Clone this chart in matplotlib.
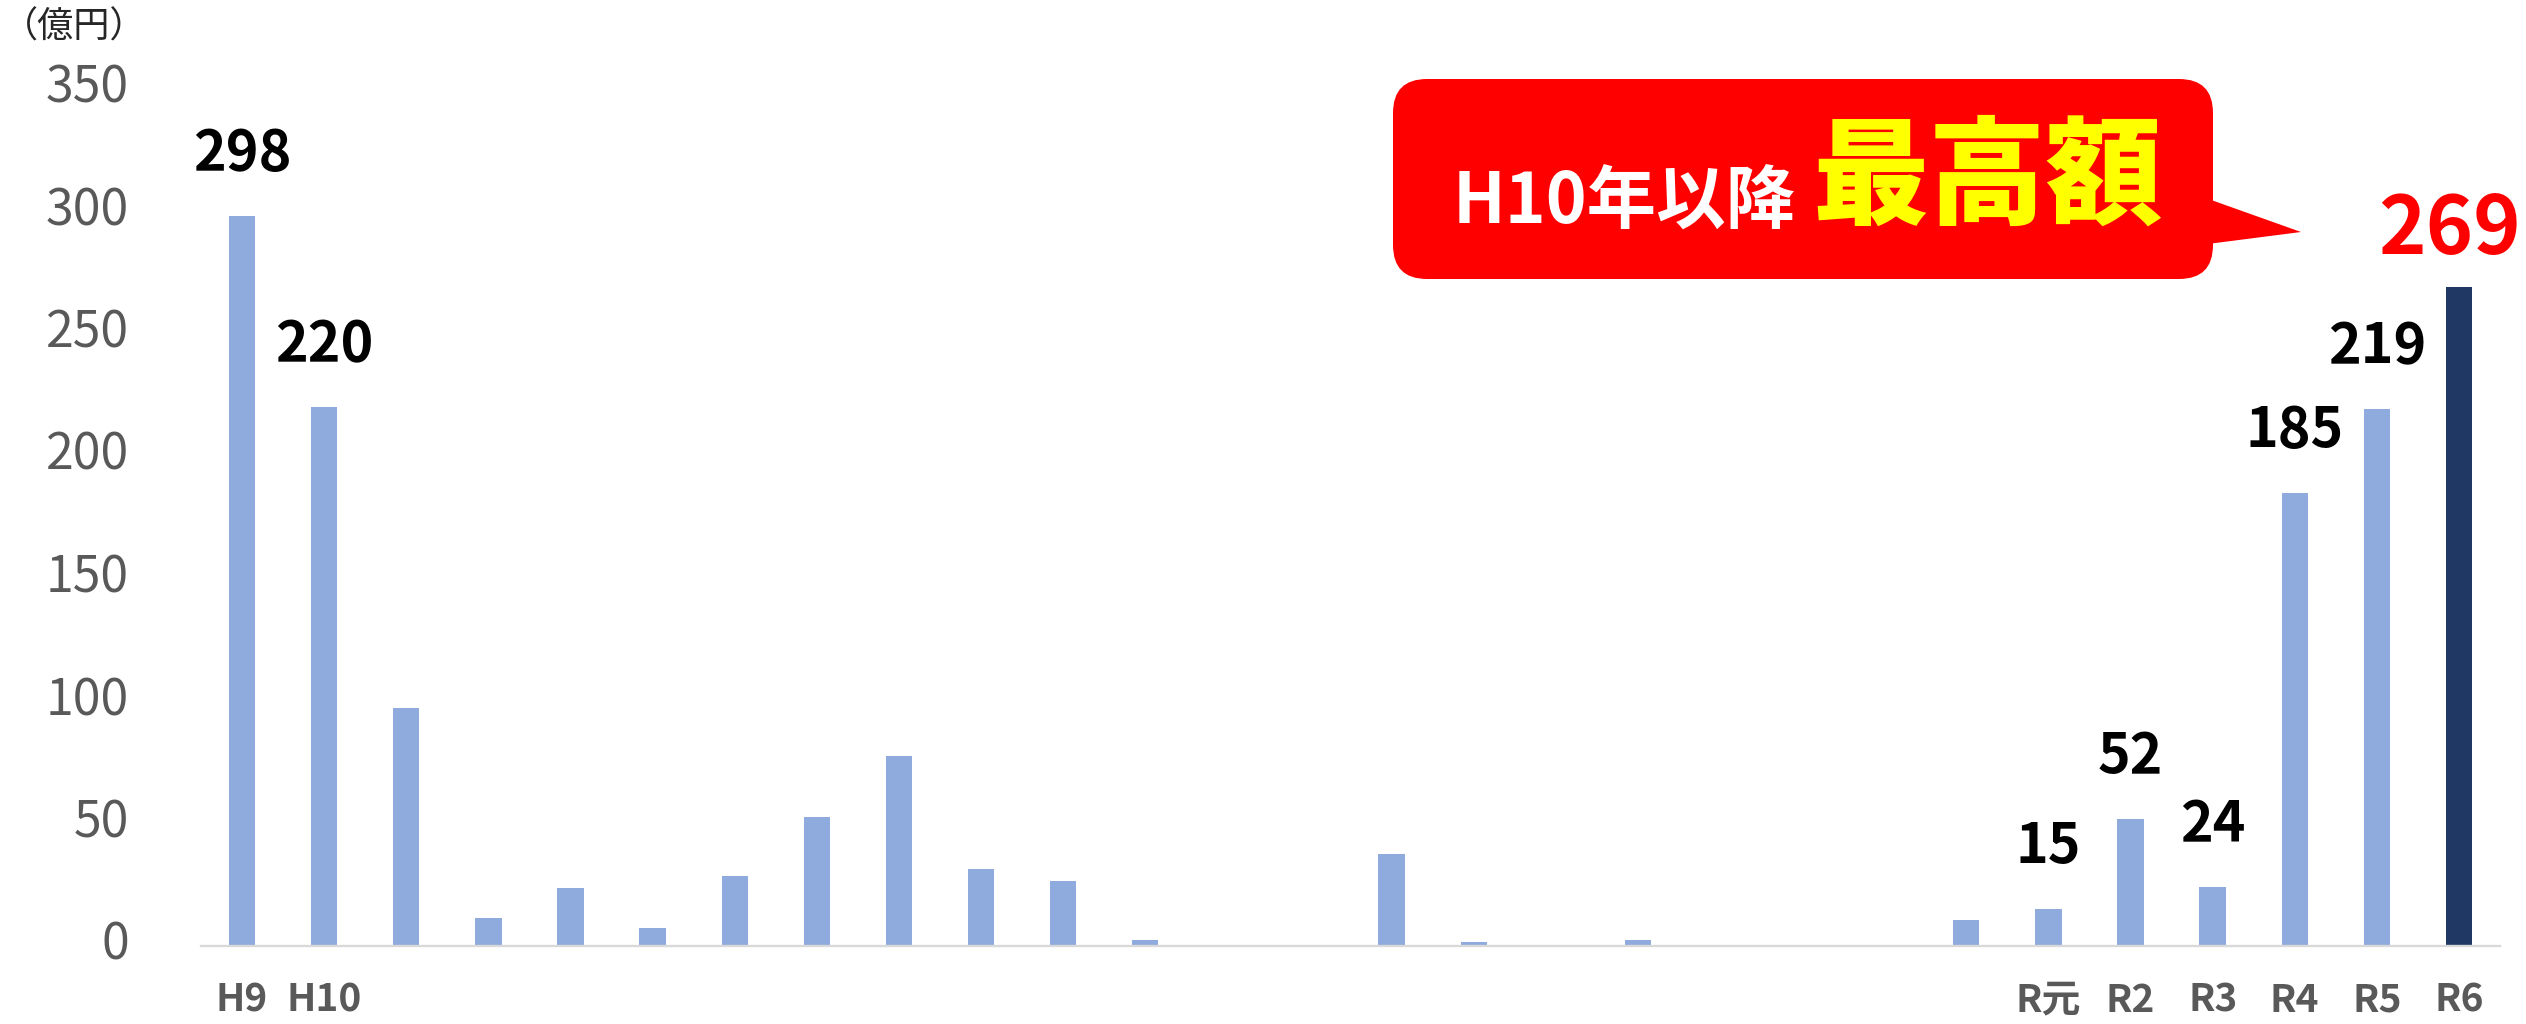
import numpy as np
import matplotlib.pyplot as plt
from matplotlib.patches import FancyBboxPatch, Polygon

plt.rcParams['font.family'] = ['Noto Sans CJK JP', 'DejaVu Sans']

# fiscal years H9 .. H30, R元, R2 .. R6
years = ['H%d' % i for i in range(9, 31)] + ['R元', 'R2', 'R3', 'R4', 'R5', 'R6']
# 億円
values = [298, 220, 97, 11.6, 23.5, 7.5, 28.7, 52.5, 77.5, 31.6, 26.6, 2.5,
          0.5, 0, 37.6, 1.6, 0.4, 2.5, 0, 0, 0.4, 10.5, 15, 52, 24, 185, 219, 269]
shown_ticks = ['H9', 'H10', 'R元', 'R2', 'R3', 'R4', 'R5', 'R6']
labelled = ['H9', 'H10', 'R元', 'R2', 'R3', 'R4', 'R5', 'R6']
yticks = [0, 50, 100, 150, 200, 250, 300, 350]

W, H = 2526, 1024
fig = plt.figure(figsize=(W / 100, H / 100), dpi=100)
ax = fig.add_axes([201 / W, 1 - 946 / H, 2299 / W, (946 - 88.5) / H])

x = np.arange(len(years))
colors = ['#8FAADC'] * (len(years) - 1) + ['#203864']
ax.bar(x, values, width=0.32, color=colors)

ax.set_xlim(-0.5, len(years) - 0.5)
ax.set_ylim(0, 350)
ax.set_yticks(yticks)
ax.set_xticks(x)
ax.set_xticklabels([y if y in shown_ticks else '' for y in years],
                   fontsize=28, fontweight='bold', color='#595959')
ax.tick_params(axis='x', length=0, pad=25)
ax.tick_params(axis='y', length=0, pad=52, labelsize=36, labelcolor='#595959')
for lab in ax.get_yticklabels():
    lab.set_va('center')
for s in ['top', 'right', 'left']:
    ax.spines[s].set_visible(False)
ax.spines['bottom'].set_color('#D9D9D9')
ax.spines['bottom'].set_linewidth(1.7)

# value labels
for i, y in enumerate(years):
    if y not in labelled:
        continue
    v = values[i]
    if y == 'R6':
        ax.annotate(f'{v:.0f}', (i, v), xytext=(-7, 24), textcoords='offset points',
                    ha='center', va='baseline', fontsize=58, fontweight='bold',
                    color='#FF0000')
    else:
        ax.annotate(f'{v:.0f}', (i, v), xytext=(0, 33), textcoords='offset points',
                    ha='center', va='baseline', fontsize=40, fontweight='bold',
                    color='black')

# overlay in pixel coords for the callout and unit label
ov = fig.add_axes([0, 0, 1, 1])
ov.set_xlim(0, W)
ov.set_ylim(H, 0)
ov.axis('off')

ov.text(2, 28, '（億円）', ha='left', va='center', fontsize=26, color='#262626')

box = FancyBboxPatch((1393, 79), 820, 200, boxstyle='round,pad=0,rounding_size=34',
                     facecolor='#FF0000', edgecolor='none')
ov.add_patch(box)
ov.add_patch(Polygon([(2200, 196), (2301, 232), (2200, 245)], closed=True,
                     facecolor='#FF0000', edgecolor='none'))
ov.text(1453, 203, 'H10年以降', ha='left', va='center', fontsize=50,
        fontweight='bold', color='white')
ov.text(1812, 180, '最高額', ha='left', va='center', fontsize=84,
        fontweight='heavy', color='#FFFF00')

fig.savefig('out.png', dpi=100)
